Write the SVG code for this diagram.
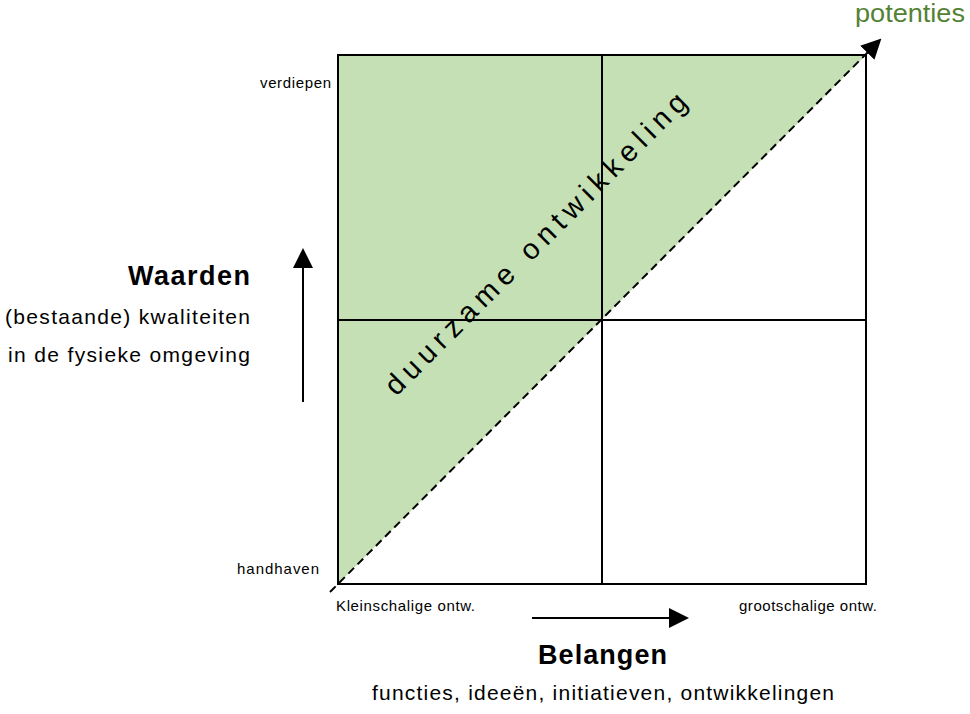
<svg xmlns="http://www.w3.org/2000/svg" width="970" height="714" viewBox="0 0 970 714">
<style>
text{font-family:"Liberation Sans",Arial,sans-serif;fill:#000}
.s{font-size:15px}
.m{font-size:21px}
.b{font-size:27px;font-weight:bold}
.ln{stroke:#000;stroke-width:2;fill:none}
</style>
<defs>
<marker id="ah2" viewBox="0 0 10 10" refX="9" refY="5" markerWidth="20" markerHeight="20" markerUnits="userSpaceOnUse" orient="auto"><path d="M0,0L10,5L0,10z" fill="#000"/></marker>
</defs>
<rect width="970" height="714" fill="#fff"/>
<g id="quadrant">
<polygon points="338,55 866,55 338,584" fill="#c5e0b4"/>
<rect x="338" y="55" width="528" height="529" class="ln"/>
<line x1="602" y1="55" x2="602" y2="584" class="ln"/>
<line x1="338" y1="320" x2="866" y2="320" class="ln"/>
</g>
<g id="connectors">
<line x1="330" y1="592" x2="880" y2="40" stroke="#000" stroke-width="2" stroke-dasharray="8,5" marker-end="url(#ah2)"/>
<line x1="303" y1="402" x2="303" y2="250" stroke="#000" stroke-width="2" marker-end="url(#ah2)"/>
<line x1="532" y1="618" x2="687" y2="618" stroke="#000" stroke-width="2" marker-end="url(#ah2)"/>
</g>
<g id="labels">
<text x="855" y="22" font-size="25" textLength="110" lengthAdjust="spacingAndGlyphs" style="fill:#548235">potenties</text>
<text x="537" y="253" font-size="29" textLength="414" transform="rotate(-45 537 245)" text-anchor="middle">duurzame ontwikkeling</text>
<text x="260" y="88" class="s" textLength="71">verdiepen</text>
<text x="237" y="574" class="s" textLength="82">handhaven</text>
<text x="336" y="611" class="s" textLength="139">Kleinschalige ontw.</text>
<text x="739" y="611" class="s" textLength="138">grootschalige ontw.</text>
<text x="128" y="285" class="b" textLength="122">Waarden</text>
<text x="5" y="324" class="m" textLength="245">(bestaande) kwaliteiten</text>
<text x="8" y="362" class="m" textLength="242">in de fysieke omgeving</text>
<text x="538" y="664" class="b" textLength="129">Belangen</text>
<text x="372" y="700" class="m" textLength="462">functies, ideeën, initiatieven, ontwikkelingen</text>
</g>
</svg>
